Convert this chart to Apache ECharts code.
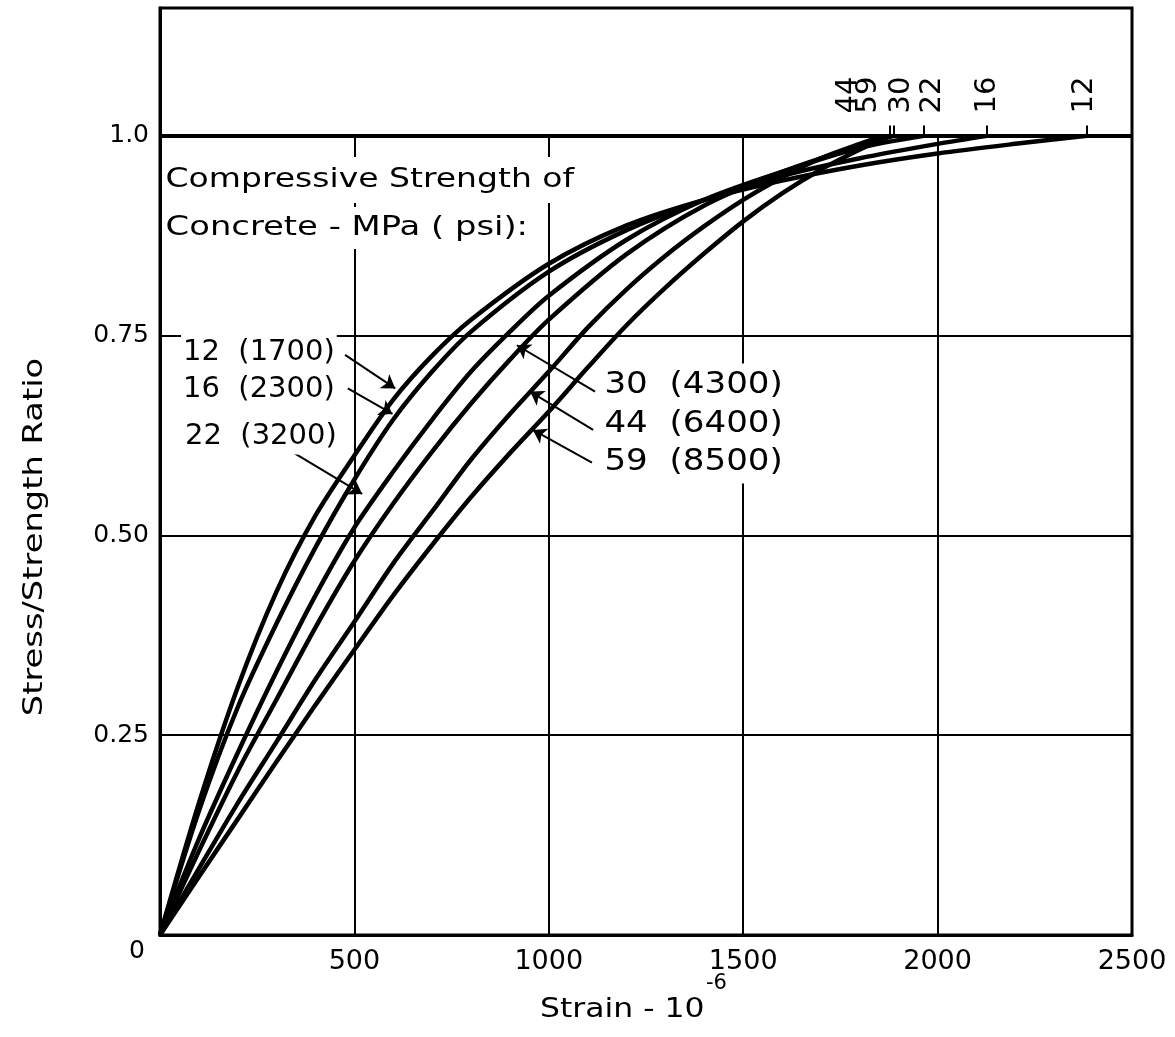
<!DOCTYPE html>
<html><head><meta charset="utf-8">
<script src="https://cdn.jsdelivr.net/npm/echarts/dist/echarts.min.js"></script>
<style>html,body{margin:0;padding:0;background:#fff}#c{width:1175px;height:1037px}</style>
</head><body><div id="c"></div>
<script>
// ---- data ----
const strainTickLabels = {0:'', 500:'500', 1000:'1000', 1500:'1500', 2000:'2000', 2500:'2500'};
const ratioTickLabels = {'0':'0', '0.25':'0.25', '0.5':'0.50', '0.75':'0.75', '1':'1.0'};

// [strain (1e-6), stress/strength ratio]
const curve12 = [[0,0],[100,0.165],[200,0.31],[300,0.43],[400,0.525],[500,0.6],[600,0.67],[700,0.725],[800,0.77],[1000,0.84],[1200,0.888],[1400,0.92],[1600,0.944],[1800,0.963],[2000,0.978],[2200,0.99],[2384,1]];
const curve16 = [[0,0],[100,0.155],[200,0.285],[300,0.39],[400,0.485],[500,0.57],[600,0.645],[700,0.705],[800,0.755],[1000,0.83],[1200,0.882],[1400,0.92],[1600,0.95],[1800,0.972],[2000,0.99],[2127,1]];
const curve22 = [[0,0],[100,0.12],[200,0.228],[300,0.33],[400,0.425],[500,0.51],[600,0.58],[700,0.645],[800,0.705],[900,0.755],[1000,0.8],[1200,0.87],[1400,0.92],[1600,0.955],[1800,0.985],[1965,1]];
const curve30 = [[0,0],[100,0.105],[200,0.205],[300,0.295],[400,0.385],[500,0.468],[600,0.54],[700,0.605],[800,0.665],[900,0.72],[1000,0.77],[1200,0.852],[1400,0.913],[1600,0.955],[1800,0.988],[1887,1]];
const curve44 = [[0,0],[100,0.083],[200,0.165],[300,0.242],[400,0.32],[500,0.392],[600,0.465],[700,0.53],[800,0.595],[900,0.652],[1000,0.705],[1100,0.76],[1200,0.808],[1300,0.85],[1400,0.887],[1500,0.92],[1600,0.948],[1700,0.972],[1800,0.99],[1860,1]];
const curve59 = [[0,0],[100,0.073],[200,0.145],[300,0.217],[400,0.288],[500,0.357],[600,0.425],[700,0.488],[800,0.548],[900,0.603],[1000,0.655],[1100,0.71],[1200,0.763],[1300,0.81],[1400,0.853],[1500,0.893],[1600,0.928],[1700,0.958],[1800,0.983],[1876,1]];

const peakTickStrain = [1876, 1887, 1965, 2127, 2384];
const peakLabels = ['44','59','30','22','16','12'];
const peakLabelStrain = [1770, 1821, 1908, 1986, 2127, 2379];
const peakLabelRatio = 1.028;

const leftLabels = ['12  (1700)', '16  (2300)', '22  (3200)'];
const rightLabels = ['30  (4300)', '44  (6400)', '59  (8500)'];
// arrows: [fromStrain, fromRatio, toStrain, toRatio]
const arrowLines = [
  [476, 0.726, 605, 0.684],
  [483, 0.684, 598, 0.652],
  [342, 0.604, 520, 0.552],
  [1119, 0.680, 918, 0.738],
  [1114, 0.632, 952, 0.680],
  [1111, 0.591, 959, 0.632]
];
const verticalGrid = [500, 1000, 1500, 2000];

// ---- chart ----
const FONT = 'DejaVu Sans';
const black = '#000';
const chart = echarts.init(document.getElementById('c'), null, {renderer: 'canvas'});

function curve(name, data) {
  return {name, type: 'line', data, smooth: 0.3, symbol: 'none',
    lineStyle: {color: black, width: 4.5}, z: 5, silent: true, animation: false};
}

const gridLineData = verticalGrid.map(v => [{coord: [v, 0]}, {coord: [v, 1]}]);
gridLineData.push([{coord: [0, 1], lineStyle: {width: 4}}, {coord: [2500, 1]}]);
peakTickStrain.forEach(v => gridLineData.push([{coord: [v, 1]}, {coord: [v, 1.013]}]));

const txt = (text, x, y, size, sx, extra) => ({
  type: 'text', x, y, scaleX: sx, z: 100,
  style: Object.assign({text, fontSize: size, fontFamily: FONT, fill: black,
    align: 'left', verticalAlign: 'middle'}, extra || {})
});

const option = {
  animation: false,
  backgroundColor: '#fff',
  grid: {left: 160, right: 43, top: 8, bottom: 102, show: true, borderColor: black, borderWidth: 3,
    containLabel: false, outerBoundsMode: 'none'},
  xAxis: {type: 'value', min: 0, max: 2500, interval: 500,
    axisLine: {show: true, lineStyle: {color: black, width: 3}},
    axisTick: {show: false}, splitLine: {show: false},
    axisLabel: {color: black, fontSize: 27, fontFamily: FONT, margin: 13,
      formatter: v => strainTickLabels[v] !== undefined ? strainTickLabels[v] : ''}},
  yAxis: {type: 'value', min: 0, max: 1.16, interval: 0.25,
    axisLine: {show: true, lineStyle: {color: black, width: 3}},
    axisTick: {show: false},
    splitLine: {show: true, lineStyle: {color: black, width: 2}},
    axisLabel: {color: black, fontSize: 25, fontFamily: FONT, margin: 11,
      rich: {low: {fontSize: 25, fontFamily: FONT, color: black, padding: [32, 4, 0, 0]}},
      formatter: v => {
        const k = String(Math.round(v * 100) / 100);
        if (k === '0') return '{low|' + ratioTickLabels[k] + '}';
        return ratioTickLabels[k] !== undefined ? ratioTickLabels[k] : '';
      }}},
  series: [
    {type: 'line', data: [], silent: true, z: 3,
      markLine: {silent: true, symbol: 'none', animation: false, label: {show: false},
        lineStyle: {color: black, width: 2, type: 'solid'}, data: gridLineData}},
    curve('12', curve12), curve('16', curve16), curve('22', curve22),
    curve('30', curve30), curve('44', curve44), curve('59', curve59),
    {type: 'line', data: [], silent: true, z: 6,
      markLine: {silent: true, symbol: ['none', 'arrow'], symbolSize: 13, animation: false, label: {show: false},
        lineStyle: {color: black, width: 2, type: 'solid'},
        data: arrowLines.map(a => [{coord: [a[0], a[1]]}, {coord: [a[2], a[3]]}])}},
    {type: 'scatter', silent: true, symbolSize: 1, itemStyle: {color: 'rgba(0,0,0,0)'}, z: 7,
      data: peakLabels.map((t, i) => ({value: [peakLabelStrain[i], peakLabelRatio], name: t})),
      label: {show: true, position: 'inside', rotate: 90, align: 'left', verticalAlign: 'middle',
        color: '#000', opacity: 1, fontSize: 29, fontFamily: FONT, formatter: p => p.name}}
  ],
  graphic: [
    txt('Compressive Strength of', 163, 180, 26, 1.27, {backgroundColor: '#fff', padding: [10, 2, 10, 2]}),
    txt('Concrete - MPa ( psi):', 163, 228, 26, 1.3, {backgroundColor: '#fff', padding: [8, 2, 8, 2]}),
    txt(leftLabels[0], 181, 352, 29, 1.0, {backgroundColor: '#fff', padding: [4, 2, 4, 2]}),
    txt(leftLabels[1], 181, 389, 29, 1.0, {backgroundColor: '#fff', padding: [4, 2, 4, 2]}),
    txt(leftLabels[2], 183, 436, 29, 1.0, {backgroundColor: '#fff', padding: [4, 2, 4, 2]}),
    txt(rightLabels[0], 600, 385, 31, 1.1, {backgroundColor: '#fff', padding: [6, 4, 6, 4]}),
    txt(rightLabels[1], 600, 424, 31, 1.1, {backgroundColor: '#fff', padding: [6, 4, 6, 4]}),
    txt(rightLabels[2], 600, 462, 31, 1.1, {backgroundColor: '#fff', padding: [6, 4, 6, 4]}),
    Object.assign(txt('Stress/Strength Ratio', 35, 537, 27, 1.25, {align: 'center'}), {rotation: Math.PI / 2}),
    txt('Strain - 10', 540, 1010, 26, 1.21),
    txt('-6', 706, 984, 21, 1.0)
  ]
};
chart.setOption(option);
</script>
</body></html>
